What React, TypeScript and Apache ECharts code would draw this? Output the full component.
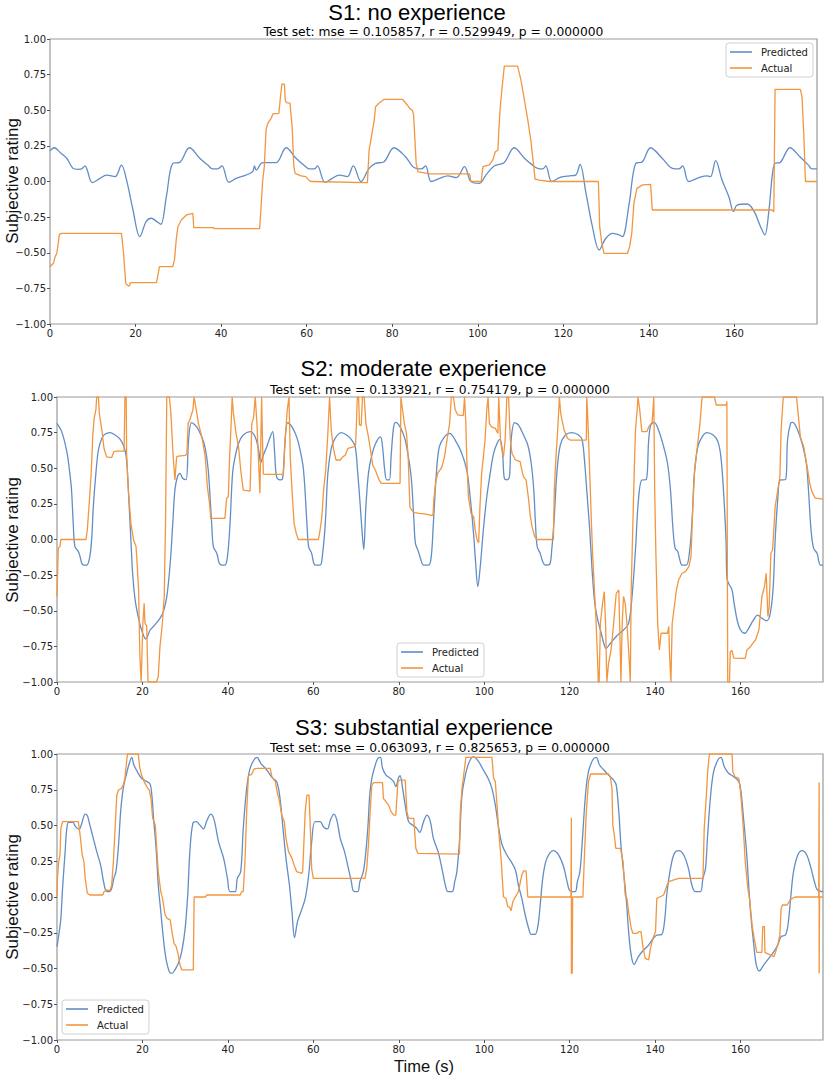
import React, { useEffect, useRef } from 'react';
import * as echarts from 'echarts';

type Pt = [number, number];

const xTickValues = [0, 20, 40, 60, 80, 100, 120, 140, 160];
const yTickValues = [-1, -0.75, -0.5, -0.25, 0, 0.25, 0.5, 0.75, 1];
const seriesNames = ['Predicted', 'Actual'];
const panelTitles = ['S1: no experience', 'S2: moderate experience', 'S3: substantial experience'];
const panelStats = [
  'Test set: mse = 0.105857, r = 0.529949, p = 0.000000',
  'Test set: mse = 0.133921, r = 0.754179, p = 0.000000',
  'Test set: mse = 0.063093, r = 0.825653, p = 0.000000',
];
const yAxisTitle = 'Subjective rating';
const xAxisTitle = 'Time (s)';

const s1Predicted: Pt[] = [[0,0.215],[1,0.237],[2.5,0.2],[3.9,0.163],[5.4,0.092],[6.5,0.085],[7.4,0.088],[8.2,0.11],[8.7,0.08],[9.9,-0.008],[11.7,0.022],[13.2,0.045],[15.2,0.034],[16.7,0.115],[17.9,0.01],[19.4,-0.2],[21,-0.387],[22.5,-0.28],[23.7,-0.258],[24.9,-0.28],[25.9,-0.3],[27.2,-0.107],[28.7,0.127],[30.3,0.134],[32.6,0.237],[35,0.163],[36.9,0.115],[38,0.088],[39.2,0.088],[40.2,0.11],[41.8,-0.006],[43.5,0.022],[45.8,0.045],[47.4,0.07],[47.8,0.11],[48.2,0.08],[49.7,0.132],[52.8,0.132],[55.2,0.237],[57.5,0.163],[59.8,0.104],[60.6,0.088],[61.8,0.088],[62.5,0.11],[64.3,-0.006],[66,0.022],[67.6,0.045],[69.5,0.034],[70.9,0.11],[72.7,-0.001],[74.6,0.092],[76.1,0.127],[78.1,0.139],[80.4,0.237],[83.1,0.174],[84.8,0.104],[85.6,0.092],[86.8,0.088],[87.8,0.11],[89.1,0.0],[91.1,0.022],[93,0.04],[95,0.027],[96.9,0.104],[98.4,-0.001],[100.4,-0.013],[101.9,0.045],[103.9,0.11],[106.2,0.134],[108.5,0.237],[110.9,0.163],[112.8,0.115],[114,0.092],[115.2,0.088],[115.9,0.11],[117.3,0.0],[119.4,0.03],[121.4,0.04],[122.9,0.045],[123.9,0.12],[125.3,-0.083],[126.8,-0.317],[128.4,-0.48],[129.9,-0.4],[131.5,-0.364],[133,-0.375],[133.8,-0.387],[135.4,-0.153],[136.9,0.127],[138.5,0.139],[140.4,0.237],[143.1,0.163],[145.5,0.092],[147,0.088],[147.9,0.11],[149.3,0.0],[151.7,0.027],[153.6,0.04],[154.4,0.034],[155.6,0.146],[157.1,0.01],[158.7,-0.107],[159.8,-0.21],[160.6,-0.165],[163,-0.158],[164.6,-0.21],[166.1,-0.317],[167.1,-0.375],[168,-0.22],[168.9,0.057],[169.5,0.127],[170.7,0.134],[173,0.237],[175.3,0.174],[177.3,0.115],[178.1,0.088],[179.3,0.088]];

const s1Actual: Pt[] = [[0,-0.598],[0.8,-0.574],[1.2,-0.527],[1.6,-0.504],[2.2,-0.371],[2.7,-0.364],[16.7,-0.364],[17.2,-0.504],[17.7,-0.715],[18.3,-0.733],[18.6,-0.733],[18.8,-0.71],[24.9,-0.71],[25.3,-0.645],[25.6,-0.598],[28.7,-0.598],[29.1,-0.55],[29.5,-0.41],[29.9,-0.317],[30.7,-0.27],[31.9,-0.235],[33.4,-0.223],[33.6,-0.324],[38.1,-0.324],[38.5,-0.331],[49,-0.331],[49.3,-0.2],[49.7,0.0],[50.1,0.104],[50.5,0.361],[50.9,0.408],[51.7,0.443],[52.1,0.474],[53.5,0.478],[53.8,0.572],[54.2,0.684],[54.8,0.684],[55,0.572],[55.3,0.553],[56.1,0.55],[56.6,0.385],[57,0.104],[57.3,0.057],[58.7,0.04],[59.8,0.034],[60.6,0.006],[61,0],[73.8,-0.008],[74.2,-0.008],[74.6,0.221],[75,0.29],[75.8,0.43],[76.1,0.525],[76.9,0.549],[78.1,0.577],[82.4,0.577],[83.5,0.537],[84.1,0.513],[84.7,0.5],[85,0.467],[85.6,0.127],[86,0.07],[88.7,0.053],[98.1,0.053],[98.4,0],[100.8,0],[101.2,0.104],[102.7,0.116],[103.5,0.15],[104.1,0.209],[104.7,0.22],[104.9,0.35],[105.2,0.5],[105.7,0.665],[106.2,0.81],[109.3,0.81],[110.1,0.712],[110.9,0.572],[111.7,0.43],[112.4,0.29],[113,0.127],[113.4,0.017],[114.4,0.01],[116.7,0],[128.2,0],[128.5,-0.317],[129,-0.434],[129.5,-0.504],[135,-0.504],[135.5,-0.457],[136,-0.364],[136.5,-0.153],[137.2,-0.048],[138.5,-0.024],[140.4,-0.02],[140.8,-0.2],[168.8,-0.2],[169.2,-0.212],[169.5,0.647],[175.4,0.647],[175.8,0.595],[176.2,0.338],[176.6,0],[179.3,0]];

const s2Predicted: Pt[] = [[0,0.815],[1.1,0.757],[2.3,0.616],[3,0.464],[3.4,0.347],[3.8,0.113],[4.2,-0.05],[5,-0.085],[5.4,-0.12],[5.8,-0.167],[6.2,-0.18],[6.9,-0.18],[7.6,-0.132],[8.1,-0.003],[8.5,0.23],[9.1,0.464],[9.7,0.628],[10.5,0.71],[11.2,0.738],[12.4,0.75],[13.6,0.733],[14.8,0.703],[15.7,0.651],[16.2,0.581],[16.5,0.464],[16.9,0.23],[17.3,-0.003],[17.7,-0.237],[18.3,-0.425],[19,-0.541],[19.8,-0.635],[20.8,-0.698],[21.8,-0.635],[23,-0.596],[24.1,-0.553],[24.9,-0.506],[25.7,-0.401],[26.5,-0.167],[27.1,0.113],[27.6,0.347],[28.2,0.44],[28.8,0.464],[29.4,0.43],[30.2,0.42],[30.8,0.698],[31.5,0.82],[32.7,0.79],[33.9,0.72],[34.7,0.64],[35.4,0.488],[36.2,0.113],[36.6,-0.05],[37.4,-0.097],[38,-0.167],[38.6,-0.18],[39.3,-0.18],[39.9,-0.12],[40.5,0.113],[41.1,0.464],[41.7,0.581],[42.5,0.675],[43.6,0.733],[45.2,0.757],[46.4,0.72],[47.2,0.628],[47.7,0.54],[48.3,0.593],[49.1,0.651],[49.9,0.72],[50.5,0.757],[50.9,0.628],[51.4,0.44],[52.2,0.418],[52.8,0.425],[53.4,0.698],[54,0.82],[55,0.79],[56.1,0.72],[56.9,0.628],[57.7,0.488],[58.5,0.113],[58.9,-0.05],[59.6,-0.097],[60.1,-0.167],[60.5,-0.18],[61.6,-0.18],[62.1,-0.12],[62.8,0.113],[63.4,0.464],[64.2,0.64],[65.1,0.71],[66.5,0.75],[67.8,0.733],[69,0.698],[69.8,0.651],[70.4,0.464],[71,0.23],[71.5,0.02],[71.8,-0.07],[72.3,0.23],[72.9,0.464],[73.7,0.593],[74.6,0.675],[75.7,0.72],[76.2,0.651],[76.7,0.488],[77.2,0.418],[77.8,0.418],[78.2,0.581],[78.8,0.79],[79.3,0.822],[80.3,0.79],[81.4,0.71],[82.1,0.605],[82.9,0.44],[83.5,0.16],[83.9,-0.027],[84.6,-0.085],[85.2,-0.144],[85.8,-0.18],[87,-0.18],[87.6,-0.12],[88.1,0.113],[88.8,0.464],[89.5,0.651],[90.7,0.72],[91.9,0.745],[93.2,0.698],[94.6,0.616],[95.9,0.488],[96.7,0.3],[97.5,0.043],[98,-0.167],[98.5,-0.331],[99,-0.214],[99.8,0.067],[100.6,0.3],[101.4,0.464],[102.2,0.605],[103.2,0.687],[103.7,0.703],[104.3,0.605],[104.7,0.43],[105.3,0.418],[105.9,0.44],[106.3,0.698],[107.1,0.82],[108,0.804],[109.2,0.733],[110.2,0.663],[111,0.535],[111.6,0.347],[112,0.113],[112.4,-0.05],[113.1,-0.097],[113.7,-0.156],[114.3,-0.18],[115.3,-0.175],[115.8,-0.074],[116.4,0.16],[117,0.464],[117.8,0.663],[119,0.733],[120.5,0.75],[122.1,0.733],[122.9,0.698],[123.4,0.58],[124,0.347],[124.7,0.067],[125.2,-0.19],[125.8,-0.425],[126.4,-0.541],[127.2,-0.635],[128,-0.73],[128.5,-0.764],[129.5,-0.73],[131,-0.677],[132.6,-0.635],[133.8,-0.588],[134.6,-0.401],[135.4,-0.074],[136.1,0.277],[136.9,0.418],[137.9,0.42],[138.5,0.698],[139,0.804],[139.8,0.822],[140.8,0.768],[142,0.651],[142.9,0.535],[143.6,0.347],[144.2,0.067],[144.7,-0.062],[145.3,-0.085],[145.8,-0.144],[146.3,-0.18],[147.3,-0.18],[148.1,-0.074],[148.7,0.16],[149.2,0.464],[150,0.651],[151,0.72],[152.1,0.75],[153.6,0.733],[154.7,0.687],[155.4,0.58],[156,0.347],[156.6,-0.003],[156.8,-0.272],[157.2,-0.307],[158,-0.354],[158.5,-0.448],[159.2,-0.565],[160,-0.635],[161,-0.658],[161.9,-0.623],[163,-0.565],[164,-0.53],[165,-0.553],[166,-0.57],[166.8,-0.541],[167.6,-0.354],[168.1,-0.003],[168.7,0.277],[169.3,0.418],[170.5,0.42],[171,0.698],[171.7,0.815],[172.2,0.822],[173.2,0.78],[174.4,0.675],[175.4,0.535],[175.9,0.347],[176.5,0.067],[177.1,-0.062],[177.9,-0.097],[178.7,-0.18],[179.3,-0.18]];

const s2Actual: Pt[] = [[0,-0.4],[0.3,-0.06],[0.7,-0.05],[0.9,0],[6.8,0],[7.1,0.07],[7.6,0.277],[8,0.464],[8.4,0.745],[8.7,0.85],[9.1,0.91],[9.3,1],[9.7,1],[9.9,0.885],[10.5,0.768],[11,0.64],[11.6,0.58],[12.8,0.575],[13.3,0.616],[14,0.62],[15.7,0.62],[15.9,1],[16.2,1],[16.3,0.6],[16.7,0.347],[17.3,0.113],[17.9,0],[18.5,-0.05],[18.8,-0.19],[19.1,-0.354],[19.4,-0.82],[19.7,-1],[20.1,-0.588],[20.4,-0.448],[20.6,-0.588],[21,-0.61],[21.3,-1],[23.3,-1],[23.7,-0.963],[24.1,-0.752],[24.6,-0.61],[25.1,-0.4],[25.4,0.113],[25.7,1],[26.3,1],[26.6,0.91],[27.2,0.58],[27.6,0.418],[28,0.58],[28.4,0.585],[30,0.59],[30.4,0.6],[30.7,0.815],[31.1,0.84],[31.8,0.91],[32.1,1],[32.6,0.91],[33.1,0.815],[33.9,0.72],[34.7,0.58],[35.2,0.37],[35.7,0.254],[36,0.148],[39.3,0.148],[39.7,0.29],[40.1,0.3],[40.4,0.58],[40.7,0.768],[41,1],[41.3,0.885],[41.9,0.745],[42.5,0.65],[43,0.488],[43.6,0.347],[45.2,0.34],[45.6,0.815],[46,0.85],[46.4,1],[46.8,0.815],[47.2,0.535],[47.5,0.324],[47.9,1],[48.1,0.7],[48.3,0.46],[48.6,0.457],[53,0.457],[53.4,0.7],[53.9,0.91],[54.3,1],[54.6,0.58],[55,0.347],[55.5,0.113],[56,0.043],[56.5,0],[61.2,0],[61.6,0.07],[62,0.16],[62.4,0.347],[62.9,0.488],[63.4,0.745],[63.8,1],[64.2,0.768],[64.7,0.64],[65.3,0.558],[66.3,0.558],[66.9,0.58],[67.5,0.593],[68.1,0.64],[69.4,0.65],[69.9,0.663],[70.3,1],[70.6,1],[70.8,0.804],[71.2,0.8],[71.5,1],[71.9,1],[72.3,0.815],[72.9,0.72],[73.5,0.605],[73.9,0.523],[74.5,0.488],[75.4,0.418],[75.9,0.394],[80.3,0.394],[80.5,1],[80.8,0.93],[81.3,0.815],[81.8,0.745],[82.2,0.58],[82.6,0.23],[83,0.207],[83.7,0.188],[84.8,0.184],[86,0.18],[88,0.167],[88.2,0.277],[88.6,0.394],[89.1,0.464],[89.7,0.49],[90.1,0.51],[90.7,0.58],[91.3,0.7],[91.9,0.815],[92.3,1],[92.8,1],[93.2,0.91],[93.8,0.874],[95.1,0.87],[95.4,1],[95.7,0.815],[95.9,0.58],[96.3,0.3],[96.9,0.184],[97.5,0.16],[97.9,0.067],[98.3,0],[98.7,-0.022],[99,0.23],[99.4,0.464],[99.8,0.58],[100.2,0.7],[100.6,0.91],[100.9,1],[101.2,0.815],[101.7,0.79],[102.6,0.78],[103.2,0.745],[103.4,1],[103.8,0.698],[104.1,0.64],[104.5,0.58],[104.9,0.7],[105.3,1],[105.7,1],[106.1,0.7],[106.5,0.605],[107.3,0.558],[108.4,0.546],[108.8,0.488],[109.2,0.44],[109.8,0.418],[110.4,0.277],[110.8,0.16],[111.2,0.09],[111.8,0.02],[112.3,0],[116.2,0],[116.4,0.347],[116.8,0.58],[117.2,0.768],[117.6,1],[117.9,0.885],[118.7,0.768],[119.5,0.71],[120.1,0.698],[123.9,0.698],[124,1],[124.3,0.815],[124.7,0.464],[125.1,0.113],[125.4,-0.12],[125.8,-0.354],[126.2,-0.588],[126.5,-0.822],[126.7,-1],[126.9,-1],[127.2,-0.588],[127.7,-0.448],[128.1,-0.366],[128.4,-0.588],[128.7,-1],[129.1,-0.87],[129.7,-0.775],[130.3,-0.588],[130.9,-0.378],[131.5,-0.354],[131.7,-0.588],[132,-1],[132.3,-0.588],[132.6,-0.4],[133,-0.448],[133.4,-0.588],[133.8,-0.775],[134.2,-1],[134.4,-0.354],[134.7,0],[135.1,0.464],[135.4,0.768],[135.8,0.91],[136,1],[136.4,0.91],[136.9,0.757],[138.1,0.757],[138.5,0.79],[139.3,0.822],[139.7,1],[139.9,0.347],[140.2,-0.12],[140.6,-0.588],[141,-0.775],[141.4,-0.658],[142.9,-0.658],[143.2,-0.61],[143.4,-0.822],[143.7,-1],[144,-0.588],[144.5,-0.47],[145,-0.354],[145.5,-0.284],[146.3,-0.237],[147.1,-0.226],[147.9,-0.19],[148.4,-0.12],[148.8,0.207],[149.2,0.464],[149.8,0.628],[150.5,0.815],[151,1],[153.9,1],[154.3,0.944],[156.7,0.944],[156.8,0.97],[157,-1],[157.4,-1],[157.6,-0.787],[158,-0.78],[158.4,-0.832],[160,-0.834],[161.1,-0.834],[161.5,-0.775],[162.3,-0.752],[163.5,-0.705],[164.3,-0.635],[165,-0.4],[165.6,-0.33],[166,-0.237],[166.4,-0.541],[166.7,-0.471],[167.1,-0.097],[167.5,-0.074],[168.1,0.23],[168.7,0.347],[169.2,0.44],[169.5,0.768],[170,1],[173.1,1],[173.4,0.91],[174,0.72],[174.8,0.65],[175.6,0.51],[176.2,0.394],[176.7,0.336],[177.5,0.29],[179.3,0.284]];

const s3Predicted: Pt[] = [[0,-0.347],[0.3,-0.29],[0.9,-0.15],[1.3,0.06],[1.9,0.317],[2.3,0.48],[2.7,0.522],[3.7,0.522],[4.4,0.49],[5.2,0.473],[5.8,0.515],[6.6,0.58],[7.1,0.57],[7.7,0.503],[8.5,0.41],[9.3,0.317],[10.2,0.224],[10.9,0.107],[11.5,0.042],[12.3,0.037],[12.8,0.06],[13.3,0.13],[13.8,0.177],[14.4,0.364],[14.9,0.597],[15.5,0.76],[16.2,0.853],[16.8,0.923],[17.5,0.977],[18,0.923],[18.8,0.876],[19.8,0.83],[20.8,0.811],[21.8,0.788],[22.2,0.713],[22.6,0.55],[23.2,0.34],[23.7,0.084],[24.3,-0.103],[24.9,-0.29],[25.5,-0.429],[26.3,-0.522],[26.9,-0.534],[27.6,-0.51],[28.4,-0.464],[29.2,-0.382],[30,-0.219],[30.6,0.014],[31.1,0.317],[31.8,0.515],[32.6,0.527],[33.3,0.508],[34.3,0.476],[35,0.527],[36,0.58],[36.8,0.538],[37.8,0.387],[39,0.27],[39.9,0.13],[40.5,0.037],[41.7,0.037],[42.2,0.13],[43,0.177],[43.6,0.48],[44.4,0.76],[45.2,0.9],[46.1,0.958],[46.8,0.977],[47.7,0.935],[49.1,0.888],[50.5,0.83],[51.4,0.807],[52.1,0.713],[52.9,0.48],[53.6,0.27],[54.4,0.084],[55,-0.103],[55.6,-0.284],[56.3,-0.172],[57.1,-0.103],[58.1,-0.01],[58.9,0.15],[59.6,0.38],[60.4,0.527],[61.6,0.527],[62.4,0.49],[63.3,0.476],[64,0.538],[64.8,0.58],[65.5,0.538],[66.3,0.41],[67.3,0.317],[68.2,0.2],[68.9,0.107],[69.4,0.042],[70.4,0.037],[70.9,0.107],[71.7,0.177],[72.3,0.317],[72.8,0.503],[73.2,0.713],[73.7,0.83],[74.5,0.923],[75.1,0.97],[75.7,0.977],[76.2,0.9],[77,0.853],[78,0.83],[78.8,0.807],[79.3,0.772],[79.9,0.83],[80.3,0.848],[80.9,0.76],[81.5,0.643],[82.3,0.527],[83.2,0.503],[84.2,0.48],[84.9,0.452],[85.8,0.527],[86.6,0.573],[87.4,0.527],[88.1,0.41],[89.2,0.317],[90.1,0.2],[90.9,0.084],[91.5,0.037],[92.5,0.037],[93.1,0.107],[93.6,0.177],[94.2,0.387],[94.8,0.713],[95.6,0.853],[96.5,0.946],[97.5,0.98],[98.7,0.946],[99.8,0.888],[100.9,0.83],[101.8,0.76],[102.6,0.643],[103.4,0.48],[104.2,0.364],[105.3,0.294],[106.3,0.247],[107.3,0.189],[108,0.084],[108.8,-0.01],[109.6,-0.126],[110.4,-0.219],[111,-0.261],[111.9,-0.261],[112.6,-0.196],[113.1,-0.056],[113.7,0.13],[114.4,0.247],[115.3,0.305],[116.2,0.324],[117.4,0.294],[118.6,0.21],[119.4,0.107],[120.1,0.042],[121.3,0.037],[121.8,0.107],[122.4,0.177],[123,0.41],[123.7,0.713],[124.4,0.876],[125.4,0.958],[126.2,0.977],[127,0.923],[128,0.888],[129.1,0.853],[130.3,0.818],[130.9,0.783],[131.5,0.597],[132,0.364],[132.7,0.154],[133.3,-0.033],[133.8,-0.242],[134.4,-0.406],[135.1,-0.471],[136.1,-0.417],[137.3,-0.371],[138.5,-0.336],[139.3,-0.3],[140.4,-0.266],[141.5,-0.263],[142.2,-0.172],[142.8,0.037],[143.6,0.2],[144.5,0.305],[145.5,0.324],[146.7,0.294],[147.8,0.2],[148.6,0.084],[149.4,0.037],[150.6,0.037],[151.2,0.13],[151.8,0.2],[152.3,0.434],[153,0.713],[153.7,0.876],[154.7,0.958],[155.4,0.977],[156.2,0.911],[157.2,0.865],[158.4,0.841],[159.6,0.807],[160.1,0.737],[160.7,0.55],[161.4,0.317],[161.9,0.084],[162.4,-0.126],[163.1,-0.336],[163.7,-0.476],[164.4,-0.517],[165.4,-0.476],[166.6,-0.429],[167.8,-0.382],[168.7,-0.336],[169.5,-0.277],[170.5,-0.266],[171.1,-0.196],[171.8,0.014],[172.4,0.177],[173.4,0.294],[174.4,0.324],[175.5,0.294],[176.5,0.2],[177.3,0.107],[178,0.049],[179.3,0.037]];

const s3Actual: Pt[] = [[0,0],[0.1,0.13],[0.4,0.247],[0.7,0.294],[0.9,0.48],[1.3,0.527],[5,0.527],[5.2,0.48],[5.5,0.41],[5.9,0.294],[6.3,0.247],[6.6,0.13],[7.1,0.026],[7.7,0.014],[10.7,0.014],[11,0.037],[11.6,0.049],[12.4,0.045],[12.8,0.084],[13.2,0.247],[13.6,0.48],[14,0.713],[14.4,0.748],[15.1,0.76],[15.5,0.783],[15.9,0.83],[16.2,0.923],[16.5,1],[19,1],[19.4,0.9],[19.8,0.853],[20.4,0.807],[21,0.772],[21.6,0.748],[22,0.69],[22.4,0.55],[23,0.503],[23.3,0.364],[23.7,0.177],[24.3,0.037],[24.7,-0.01],[25.3,-0.126],[25.8,-0.149],[26.5,-0.16],[26.9,-0.242],[27.4,-0.324],[27.9,-0.347],[28.4,-0.406],[28.8,-0.476],[29.2,-0.51],[31.9,-0.51],[32.1,0],[34.7,0],[35.1,0.014],[42.9,0.014],[43.2,0.037],[43.6,0.037],[44,0.247],[44.4,0.597],[44.8,0.848],[45.6,0.858],[46.1,0.895],[46.8,0.9],[49.9,0.9],[50.3,0.841],[51.1,0.807],[51.6,0.725],[52.1,0.667],[52.6,0.573],[53.2,0.527],[53.6,0.41],[54.2,0.317],[55,0.27],[55.5,0.224],[56.1,0.177],[57.3,0.166],[57.5,0.177],[58.1,0.597],[58.5,0.713],[59,0.713],[59.3,0.48],[59.6,0.2],[60,0.13],[72.1,0.13],[72.5,0.2],[72.9,0.364],[73.3,0.597],[73.7,0.783],[74.1,0.8],[76.2,0.8],[76.4,0.69],[77,0.667],[77.6,0.643],[78.2,0.597],[78.8,0.573],[79.3,0.573],[79.8,0.807],[80.3,0.818],[81.5,0.818],[81.9,0.597],[82.3,0.55],[83.5,0.55],[84,0.34],[84.5,0.305],[94.2,0.3],[94.4,0.597],[94.8,0.76],[95.2,0.853],[95.7,0.977],[101.8,0.977],[102.2,0.83],[102.6,0.807],[103,0.643],[103.4,0.457],[104,0.247],[104.5,0.002],[105.1,-0.01],[105.5,-0.068],[105.9,-0.07],[106.3,-0.096],[106.7,-0.033],[107.1,-0.01],[108,0.037],[108.8,0.154],[109.2,0.182],[109.8,0.182],[110.2,0],[120.3,0],[120.4,0.555],[120.4,-0.534],[120.6,-0.534],[120.7,0],[123.1,0],[123.4,0.247],[123.9,0.597],[124.4,0.807],[124.9,0.86],[129.1,0.86],[129.5,0.841],[129.9,0.76],[130.1,0.503],[130.4,0.445],[130.8,0.34],[131.9,0.34],[132.5,0.247],[133,0.014],[133.4,-0.01],[133.8,-0.103],[134.4,-0.219],[134.8,-0.254],[135.8,-0.254],[136.2,-0.242],[136.7,-0.242],[137.2,-0.359],[137.7,-0.429],[138.5,-0.44],[138.9,-0.359],[139.5,-0.289],[140.1,-0.242],[140.4,-0.01],[141.2,0.002],[142,0.014],[142.8,0.084],[143.2,0.107],[144.4,0.119],[145.5,0.13],[151.2,0.13],[151.5,0.48],[152,0.713],[152.3,0.876],[152.7,1],[158,1],[158.2,0.876],[158.7,0.841],[159.6,0.83],[160,0.737],[160.6,0.503],[161.1,0.247],[161.7,0.061],[162.1,-0.01],[162.7,-0.196],[163.2,-0.289],[163.8,-0.387],[165,-0.387],[165.2,-0.207],[165.6,-0.207],[165.7,-0.387],[166.2,-0.394],[167,-0.406],[167.8,-0.417],[168.1,-0.394],[168.7,-0.336],[169.2,-0.266],[169.5,-0.079],[169.8,-0.056],[170.9,-0.056],[171.6,-0.021],[172.4,-0.005],[172.8,0],[178.3,0],[178.4,0.8],[178.4,-0.534],[178.5,0],[179.3,0]];

const predictedSets = [s1Predicted, s2Predicted, s3Predicted];
const actualSets = [s1Actual, s2Actual, s3Actual];

const BLUE = '#628dc6';
const ORANGE = '#f2963f';

const grids = [
  { left: 50, top: 39, width: 767, height: 285 },
  { left: 57, top: 397, width: 766, height: 285 },
  { left: 57, top: 754, width: 766, height: 286 },
];
const titlePos = [
  { x: 417, y: 12, sx: 433.5, sy: 32, nx: 12.5, ny: 181 },
  { x: 423.5, y: 368.5, sx: 440, sy: 389.5, nx: 12.5, ny: 540 },
  { x: 424, y: 727, sx: 440, sy: 748, nx: 12.5, ny: 897 },
];
const legendPos = [
  { left: 726, top: 43 },
  { left: 397, top: 643 },
  { left: 62, top: 1000 },
];

const fmtY = (v: number) => (v < 0 ? '\u2212' : '') + Math.abs(v).toFixed(2);

export default function App() {
  const ref = useRef<HTMLDivElement>(null);
  useEffect(() => {
    if (!ref.current) return;
    const chart = echarts.init(ref.current, undefined, { renderer: 'svg' });
    const tickFont = { fontFamily: 'DejaVu Sans', fontSize: 10, color: '#222' };
    const option: any = {
      animation: false,
      backgroundColor: '#ffffff',
      grid: grids.map((g) => ({
        ...g,
        show: true,
        borderColor: '#9a9a9a',
        borderWidth: 1.2,
        backgroundColor: 'transparent',
        containLabel: false,
        outerBoundsMode: 'none',
      })),
      xAxis: grids.map((_, i) => ({
        type: 'value',
        gridIndex: i,
        min: 0,
        max: 179.3,
        interval: 20,
        position: 'bottom',
        axisLine: { show: false, onZero: false },
        splitLine: { show: false },
        axisTick: { show: true, length: 3, lineStyle: { color: '#555' }, customValues: xTickValues },
        axisLabel: {
          ...tickFont,
          margin: 4,
          customValues: xTickValues,
          formatter: (v: number) => (Math.abs(v % 20) < 1e-6 ? String(v) : ''),
        },
      })),
      yAxis: grids.map((_, i) => ({
        type: 'value',
        gridIndex: i,
        min: -1,
        max: 1,
        interval: 0.25,
        position: 'left',
        axisLine: { show: false, onZero: false },
        splitLine: { show: false },
        axisTick: { show: true, length: 3, lineStyle: { color: '#555' }, customValues: yTickValues },
        axisLabel: { ...tickFont, margin: 4, customValues: yTickValues, formatter: fmtY },
      })),
      legend: legendPos.map((p) => ({
        left: p.left,
        top: p.top,
        orient: 'vertical',
        data: seriesNames,
        icon: 'rect',
        itemWidth: 22,
        itemHeight: 1.6,
        itemGap: 6,
        padding: [4, 5, 4, 4],
        borderColor: '#d0d0d0',
        borderWidth: 1,
        borderRadius: 3,
        backgroundColor: 'rgba(255,255,255,0.85)',
        selectedMode: false,
        textStyle: { fontFamily: 'DejaVu Sans', fontSize: 10, color: '#222', lineHeight: 10, padding: [0, 0, 0, 4] },
      })),
      series: grids.flatMap((_, i) => [
        {
          name: seriesNames[0],
          type: 'line',
          xAxisIndex: i,
          yAxisIndex: i,
          data: predictedSets[i],
          symbol: 'none',
          showSymbol: false,
          smooth: 0.35,
          lineStyle: { color: BLUE, width: 1.3 },
          itemStyle: { color: BLUE },
          z: 2,
        },
        {
          name: seriesNames[1],
          type: 'line',
          xAxisIndex: i,
          yAxisIndex: i,
          data: actualSets[i],
          symbol: 'none',
          showSymbol: false,
          lineStyle: { color: ORANGE, width: 1.3 },
          itemStyle: { color: ORANGE },
          z: 3,
        },
      ]),
      graphic: [
        ...titlePos.flatMap((p, i) => [
          {
            type: 'text',
            x: p.x,
            y: p.y,
            style: { text: panelTitles[i], fontFamily: 'Liberation Sans', fontSize: 22, fill: '#000', align: 'center', verticalAlign: 'middle', textAlign: 'center', textVerticalAlign: 'middle' },
          },
          {
            type: 'text',
            x: p.sx,
            y: p.sy,
            style: { text: panelStats[i], fontFamily: 'DejaVu Sans', fontSize: 12.3, fill: '#000', align: 'center', verticalAlign: 'middle', textAlign: 'center', textVerticalAlign: 'middle' },
          },
          {
            type: 'text',
            x: p.nx,
            y: p.ny,
            rotation: Math.PI / 2,
            style: { text: yAxisTitle, fontFamily: 'Liberation Sans', fontSize: 17, fill: '#111', align: 'center', verticalAlign: 'middle', textAlign: 'center', textVerticalAlign: 'middle' },
          },
        ]),
        {
          type: 'text',
          x: 424,
          y: 1066,
          style: { text: xAxisTitle, fontFamily: 'Liberation Sans', fontSize: 16.5, fill: '#111', align: 'center', verticalAlign: 'middle', textAlign: 'center', textVerticalAlign: 'middle' },
        },
      ],
    };
    chart.setOption(option);
    return () => chart.dispose();
  }, []);
  return <div ref={ref} style={{ position: 'absolute', left: 0, top: 0, width: 825, height: 1078, background: '#fff' }} />;
}
